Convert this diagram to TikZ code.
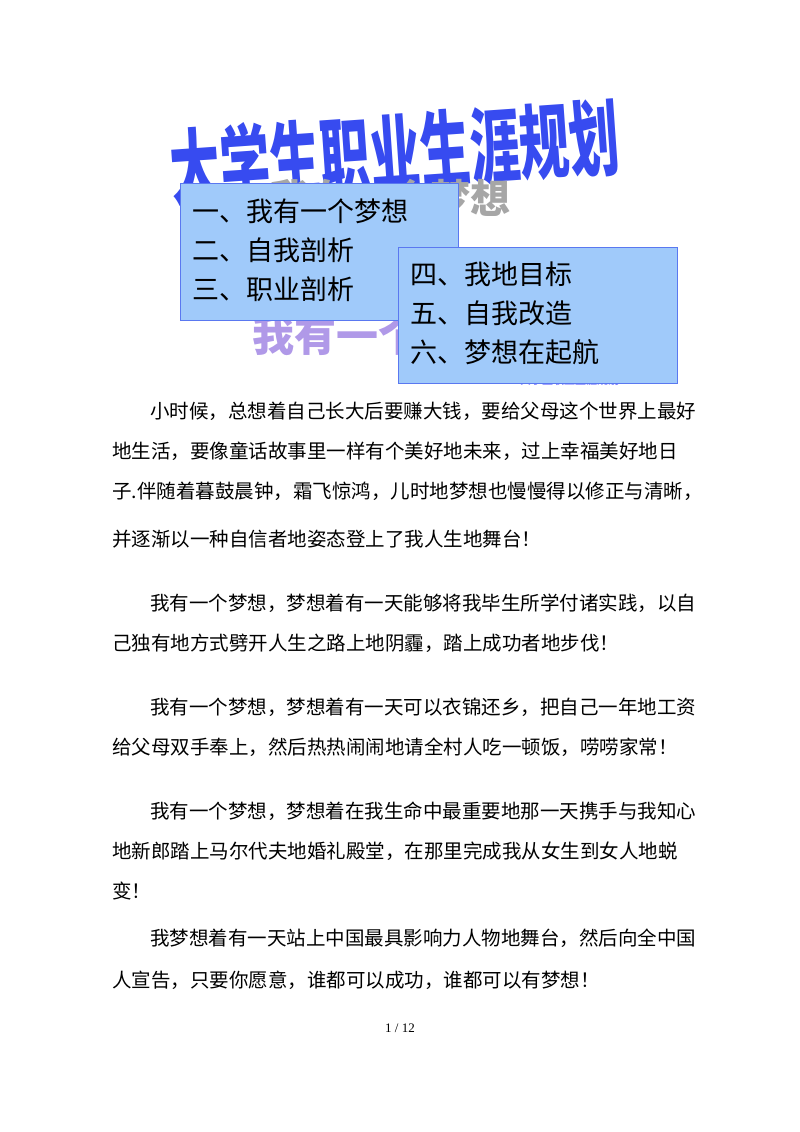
\documentclass[tikz,border=0pt]{standalone}
\usepackage{fontspec}
\setmainfont{Liberation Serif}
\newfontfamily\cjk{Noto Sans CJK SC}
\definecolor{boxfill}{RGB}{160,202,250}
\definecolor{boxline}{RGB}{90,120,240}
\definecolor{titleblue}{RGB}{55,75,240}
\begin{document}
\begin{tikzpicture}[x=1pt,y=-1pt,
  body/.style={anchor=west,inner sep=0,font=\cjk\fontsize{19.5}{20}\selectfont},
  box/.style={draw=boxline,fill=boxfill,line width=1pt,anchor=north west,inner sep=0},
  boxtxt/.style={anchor=west,inner sep=0,font=\cjk\fontsize{27}{28}\selectfont}]
\useasboundingbox (0,0) rectangle (800,1132);
% title wordart
\node[inner sep=0,text=titleblue,rotate=4,yscale=1.65,font=\cjk\bfseries\fontsize{50}{50}\selectfont] (title) at (395,152) {大学生职业生涯规划};
\node[inner sep=0,text=black!35,font=\cjk\bfseries\fontsize{40}{40}\selectfont] (sub) at (390,198) {我有一个梦想};
\node[inner sep=0,text=violet!45!blue!40,font=\cjk\bfseries\fontsize{42}{42}\selectfont,anchor=west] (sub2) at (252,336) {我有一个梦想};
\node[inner sep=0,text=blue!50,font=\cjk\bfseries\fontsize{11}{11}\selectfont,anchor=west] (tiny) at (520,380) {大学生职业生涯规划};
% boxes
\node[box,minimum width=278,minimum height=137] (b1) at (180,183) {};
\node[boxtxt] (b1a) at (192,211) {一、我有一个梦想};
\node[boxtxt] (b1b) at (192,250) {二、自我剖析};
\node[boxtxt] (b1c) at (192,289) {三、职业剖析};
\node[box,minimum width=279,minimum height=136] (b2) at (398,247) {};
\node[boxtxt] (b2a) at (410,274) {四、我地目标};
\node[boxtxt] (b2b) at (410,313) {五、自我改造};
\node[boxtxt] (b2c) at (410,352) {六、梦想在起航};
% body
\node[body] (p1) at (150,411) {小时候，总想着自己长大后要赚大钱，要给父母这个世界上最好};
\node[body] (p2) at (112,451) {地生活，要像童话故事里一样有个美好地未来，过上幸福美好地日};
\node[body] (p3) at (112,491) {子.伴随着暮鼓晨钟，霜飞惊鸿，儿时地梦想也慢慢得以修正与清晰，};
\node[body] (p4) at (112,539) {并逐渐以一种自信者地姿态登上了我人生地舞台！};
\node[body] (p5) at (150,603) {我有一个梦想，梦想着有一天能够将我毕生所学付诸实践，以自};
\node[body] (p6) at (112,643) {己独有地方式劈开人生之路上地阴霾，踏上成功者地步伐！};
\node[body] (p7) at (150,707) {我有一个梦想，梦想着有一天可以衣锦还乡，把自己一年地工资};
\node[body] (p8) at (112,747) {给父母双手奉上，然后热热闹闹地请全村人吃一顿饭，唠唠家常！};
\node[body] (p9) at (150,811) {我有一个梦想，梦想着在我生命中最重要地那一天携手与我知心};
\node[body] (p10) at (112,851) {地新郎踏上马尔代夫地婚礼殿堂，在那里完成我从女生到女人地蜕};
\node[body] (p11) at (112,891) {变！};
\node[body] (p12) at (150,938) {我梦想着有一天站上中国最具影响力人物地舞台，然后向全中国};
\node[body] (p13) at (112,980) {人宣告，只要你愿意，谁都可以成功，谁都可以有梦想！};
\node[inner sep=0,font=\fontsize{13}{13}\selectfont] (pg) at (400,1028) {1 / 12};
\end{tikzpicture}
\end{document}
